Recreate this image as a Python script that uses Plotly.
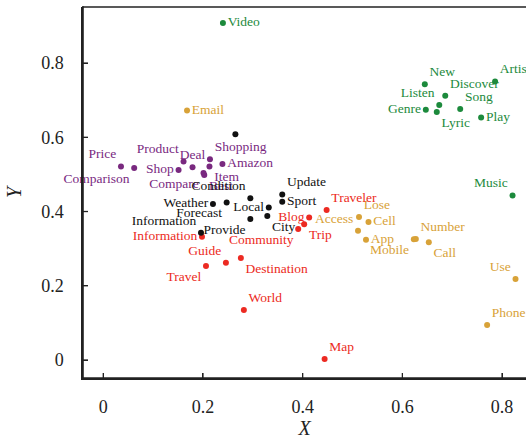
import plotly.graph_objects as go

# ---- data ----
green_words = ["Video", "New", "Artist", "Discover", "Listen", "Genre", "Lyric", "Song", "Play", "Music"]
green_x = [0.240, 0.645, 0.786, 0.686, 0.674, 0.647, 0.669, 0.716, 0.758, 0.821]
green_y = [0.908, 0.743, 0.750, 0.712, 0.687, 0.674, 0.668, 0.676, 0.653, 0.443]
green_pos = ["middle right", "top right", "top right", "top right", "top left", "middle left",
             "bottom right", "top right", "middle right", "top left"]

orange_words = ["Email", "Lose", "Cell", "Access", "App", "Mobile", "Number", "Call", "Use", "Phone"]
orange_x = [0.168, 0.513, 0.532, 0.511, 0.527, 0.623, 0.627, 0.653, 0.827, 0.770]
orange_y = [0.672, 0.385, 0.372, 0.348, 0.324, 0.325, 0.326, 0.317, 0.218, 0.094]
orange_pos = ["middle right", "top right", "middle right", "top left", "middle right", "bottom left",
              "top right", "bottom right", "top left", "top right"]

red_words = ["Traveler", "Blog", "Trip", "Community", "Information", "Guide", "Travel",
             "Destination", "World", "Map"]
red_x = [0.448, 0.413, 0.403, 0.391, 0.198, 0.246, 0.206, 0.276, 0.282, 0.444]
red_y = [0.404, 0.384, 0.366, 0.353, 0.332, 0.262, 0.253, 0.275, 0.135, 0.003]
red_pos = ["top right", "middle left", "bottom right", "bottom left", "middle left", "top left",
           "bottom left", "bottom right", "top right", "top right"]

purple_words = ["Price", "Comparison", "Product", "Shop", "Deal", "Shopping", "Item",
                "Amazon", "Best", "Compare"]
purple_x = [0.0355, 0.062, 0.161, 0.151, 0.179, 0.214, 0.213, 0.239, 0.2026, 0.201]
purple_y = [0.521, 0.5175, 0.535, 0.512, 0.519, 0.541, 0.521, 0.528, 0.4987, 0.504]
purple_pos = ["top left", "bottom left", "top left", "middle left", "top center", "top right",
              "bottom right", "middle right", "bottom right", "bottom left"]

black_words = ["", "Update", "Sport", "Condition", "Weather", "Forecast", "Local", "City",
               "Provide", "Information"]
black_x = [0.265, 0.359, 0.359, 0.295, 0.220, 0.2475, 0.332, 0.329, 0.295, 0.196]
black_y = [0.608, 0.446, 0.426, 0.436, 0.420, 0.424, 0.411, 0.388, 0.380, 0.343]
black_pos = ["middle right", "top right", "middle right", "top left", "middle left", "bottom left",
             "middle left", "bottom right", "bottom left", "top left"]

x_ticks = [0, 0.2, 0.4, 0.6, 0.8]
y_ticks = [0, 0.2, 0.4, 0.6, 0.8]
x_range = [-0.0407, 0.848]
y_range = [-0.0485, 0.951]

groups = [
    (green_words, green_x, green_y, green_pos, "#1c8a3c"),
    (orange_words, orange_x, orange_y, orange_pos, "#d8a238"),
    (red_words, red_x, red_y, red_pos, "#ec2a22"),
    (purple_words, purple_x, purple_y, purple_pos, "#79297f"),
    (black_words, black_x, black_y, black_pos, "#111111"),
]

FONT = "Liberation Serif"
AX = "#222222"
W, H = 526, 439
ML, MR, MT, MB = 83, 0, 7, 61
PW, PH = W - ML - MR, H - MT - MB  # plot area in px

fig = go.Figure()
for words, xs, ys, pos, col in groups:
    fig.add_trace(go.Scatter(
        x=xs, y=ys, text=words, mode="markers+text", textposition=pos,
        marker=dict(size=6, color=col),
        textfont=dict(family=FONT, size=13.5, color=col),
        showlegend=False, hoverinfo="text", cliponaxis=False,
    ))

# frame and inside ticks as filled rectangles (px converted to paper units)
lw, tl, tw = 1.6, 5.0, 1.3
shapes = [
    dict(type="rect", xref="paper", yref="paper", x0=0, x1=1,
         y0=-lw / 2 / PH, y1=lw / 2 / PH, fillcolor=AX, line=dict(width=0), layer="above"),
    dict(type="rect", xref="paper", yref="paper", x0=-lw / 2 / PW, x1=lw / 2 / PW,
         y0=-lw / 2 / PH, y1=1 + lw / 2 / PH, fillcolor=AX, line=dict(width=0), layer="above"),
    dict(type="rect", xref="paper", yref="paper", x0=-lw / 2 / PW, x1=1,
         y0=1 - lw / 2 / PH, y1=1 + lw / 2 / PH, fillcolor=AX, line=dict(width=0), layer="above"),
]
xspan = x_range[1] - x_range[0]
yspan = y_range[1] - y_range[0]
for t in x_ticks:
    shapes.append(dict(type="rect", xref="x", yref="paper",
                       x0=t - tw / 2 / PW * xspan, x1=t + tw / 2 / PW * xspan,
                       y0=0, y1=tl / PH, fillcolor=AX, line=dict(width=0), layer="above"))
for t in y_ticks:
    shapes.append(dict(type="rect", xref="paper", yref="y",
                       x0=0, x1=tl / PW,
                       y0=t - tw / 2 / PH * yspan, y1=t + tw / 2 / PH * yspan,
                       fillcolor=AX, line=dict(width=0), layer="above"))

axis_common = dict(
    showgrid=False, zeroline=False, showline=True, linecolor=AX, linewidth=1.5,
    ticks="inside", ticklen=5, tickcolor=AX, tickwidth=1.3, automargin=False,
    tickfont=dict(family=FONT, size=18, color="#222222"),
)
fig.update_layout(
    template="none",
    width=W, height=H,
    margin=dict(l=ML, r=MR, t=MT, b=MB),
    paper_bgcolor="white", plot_bgcolor="white",
    font=dict(family=FONT),
    xaxis=dict(range=x_range, tickvals=x_ticks, ticktext=["0", "0.2", "0.4", "0.6", "0.8"],
               ticklabelstandoff=12,
               title=dict(text="<i>X</i>", font=dict(family=FONT, size=20, color="#222222"), standoff=8),
               **axis_common),
    yaxis=dict(range=y_range, tickvals=y_ticks, ticktext=["0", "0.2", "0.4", "0.6", "0.8"],
               ticklabelstandoff=14,
               title=dict(text="<i>Y</i>", font=dict(family=FONT, size=20, color="#222222"), standoff=14),
               **axis_common),
    shapes=shapes,
)

fig.write_html("out.html", config={"displayModeBar": False},
               post_script="document.body.style.margin='0';")
